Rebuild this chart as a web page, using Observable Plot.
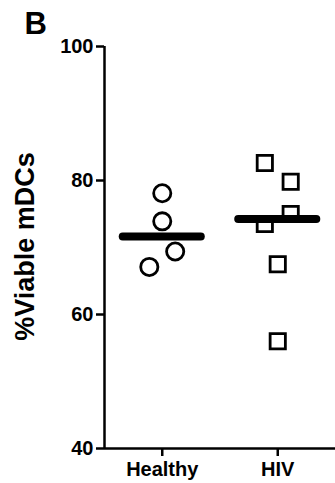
<!DOCTYPE html>
<html>
<head>
<meta charset="utf-8">
<script src="https://cdn.jsdelivr.net/npm/d3@7"></script>
<script src="https://cdn.jsdelivr.net/npm/@observablehq/plot@0.6"></script>
<style>
  html, body { margin: 0; padding: 0; background: #fff; }
  #chart svg { display: block; overflow: visible; }
</style>
</head>
<body>
<div id="chart"></div>
<script>
// Data
const groups = ["Healthy", "HIV"];
const yTicks = [40, 60, 80, 100];
const healthyValues = [78.1, 73.9, 69.4, 67.1];
const healthySlots = [0, 0, 1, -1];        // scatter column arrangement
const hivValues = [82.6, 79.8, 75.0, 73.5, 67.5, 56.0];
const hivSlots = [-1, 1, 1, -1, 0, 0];
const panelLabel = "B";
const yLabel = "%Viable mDCs";

const spread = 0.112; // column spacing in category units
const points = [
  ...healthyValues.map((v, i) => ({group: 0, x: 0 + healthySlots[i] * spread, y: v})),
  ...hivValues.map((v, i) => ({group: 1, x: 1 + hivSlots[i] * spread, y: v}))
];
const medians = [
  {i: 0, m: d3.median(healthyValues)},
  {i: 1, m: d3.median(hivValues)}
];

const font = "'Liberation Sans', Arial, Helvetica, sans-serif";

const chart = Plot.plot({
  width: 335,
  height: 483,
  marginLeft: 104,
  marginRight: 0,
  marginTop: 46,
  marginBottom: 35,
  style: {fontFamily: font, color: "#000", background: "#fff", overflow: "visible"},
  x: {type: "linear", domain: [-0.5, 1.5]},
  y: {domain: [40, 100]},
  marks: [
    Plot.axisY({ticks: yTicks, tickSize: 8, tickPadding: 3, strokeWidth: 2.5,
      fontSize: 20, fontWeight: "bold", label: null}),
    Plot.axisX({ticks: [0, 1], tickFormat: (d) => groups[d], tickSize: 8, tickPadding: 5,
      strokeWidth: 2.5, fontSize: 20, fontWeight: "bold", label: null}),
    Plot.ruleX([-0.5], {stroke: "#000", strokeWidth: 2.5}),
    Plot.ruleY([40], {stroke: "#000", strokeWidth: 2.5}),
    Plot.dot(points.filter(d => d.group === 0), {x: "x", y: "y", r: 8.6, symbol: "circle",
      stroke: "#000", strokeWidth: 2.8, fill: "#fff"}),
    Plot.dot(points.filter(d => d.group === 1), {x: "x", y: "y", r: 8.6, symbol: "square",
      stroke: "#000", strokeWidth: 2.8, fill: "#fff"}),
    Plot.ruleY(medians, {y: "m", x1: d => d.i - 0.338, x2: d => d.i + 0.338,
      stroke: "#000", strokeWidth: 8, strokeLinecap: "round"}),
    Plot.text([yLabel], {frameAnchor: "left", textAnchor: "middle", rotate: -90, dx: -79, dy: -1,
      fontSize: 27, fontWeight: "bold", fill: "#000"}),
    Plot.text([panelLabel], {frameAnchor: "top-left", textAnchor: "start", lineAnchor: "bottom",
      dx: -80, dy: -13, fontSize: 31, fontWeight: "bold", fill: "#000"})
  ]
});
document.getElementById("chart").appendChild(chart);
</script>
</body>
</html>
